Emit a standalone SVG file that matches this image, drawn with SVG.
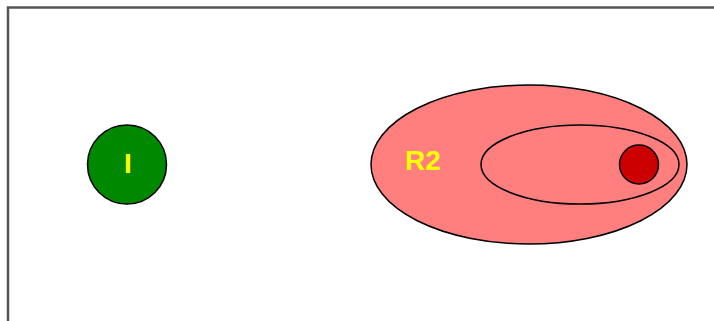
<svg xmlns="http://www.w3.org/2000/svg" width="714" height="321" viewBox="0 0 714 321">
<style>
.lbl{font-family:"Liberation Sans",Arial,sans-serif;font-weight:bold;font-size:28px;fill:#ffff00}
.ol{stroke:#000;stroke-width:1.5}
</style>
<rect width="714" height="321" fill="#fff"/>
<path d="M8 321 V7.5 H714" fill="none" stroke="#555" stroke-width="2.5"/>
<g id="node-I">
<circle cx="127" cy="164.5" r="39.5" fill="#008800" class="ol"/>
<text class="lbl" x="128" y="173" text-anchor="middle">I</text>
</g>
<g id="node-R2">
<ellipse cx="529" cy="164.5" rx="158" ry="79.5" fill="#ff7f7f" class="ol"/>
<text class="lbl" x="405" y="170">R2</text>
</g>
<g id="node-inner">
<ellipse cx="580" cy="164.5" rx="99" ry="39.5" fill="none" class="ol"/>
</g>
<g id="node-dot">
<circle cx="639" cy="164.5" r="19.5" fill="#cc0000" class="ol"/>
</g>
<g id="connectors"/>
</svg>
